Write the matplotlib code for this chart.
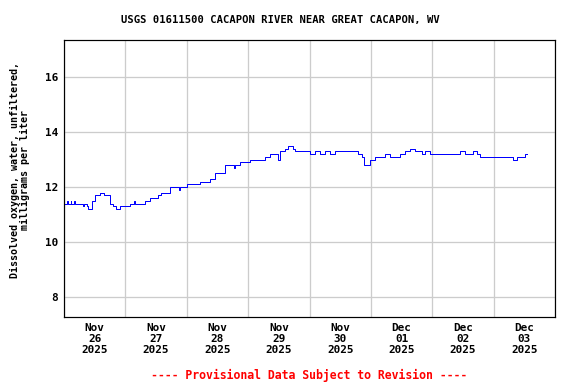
import pandas as pd
import matplotlib
matplotlib.use("Agg")
import matplotlib.pyplot as plt
import matplotlib.dates as mdates

# hours after 2025-11-26 00:00 and dissolved oxygen (mg/L)
hours = [0.4, 1.2, 1.5, 2.6, 2.9, 4.0, 4.3, 6.3, 7.5, 7.8, 9.0, 9.3, 10.9, 12.1,
         14.1, 15.6, 18.0, 19.2, 20.3, 21.9, 23.8,
         25.8, 27.5, 27.8, 29.7, 31.7, 33.6, 36.7, 37.9, 41.4, 43.4, 45.0, 45.3,
         48.1, 51.2, 53.2, 55.1,
         57.1, 59.0, 61.0, 62.9, 65.7, 66.5, 66.8, 68.8, 70.8, 72.7, 76.6, 78.6,
         80.5, 82.5,
         83.7, 84.4, 86.4, 87.6, 89.5, 90.3, 92.3, 96.2, 98.1, 100.1, 102.0,
         104.0, 105.9, 107.9, 109.8, 111.8, 113.8, 114.9, 116.5, 117.3, 118.8,
         119.6, 120.4, 121.6, 123.5, 125.5, 127.4, 130.6, 131.3, 133.3, 135.3,
         137.2, 138.4, 139.9, 141.1, 143.1, 145.0, 147.0, 148.9, 150.1, 152.8,
         154.8, 156.7, 159.9, 161.4, 162.6, 164.2, 165.7, 167.3, 170.4, 172.4,
         174.3, 175.5, 177.1, 179.4, 180.2, 181.0]
oxygen = [11.4, 11.5, 11.4, 11.5, 11.4, 11.5, 11.4, 11.4, 11.3, 11.4, 11.3, 11.2,
          11.5, 11.7,
          11.8, 11.7, 11.4, 11.3, 11.2, 11.3, 11.3,
          11.4, 11.5, 11.4, 11.4, 11.5, 11.6, 11.7, 11.8, 12.0, 12.0, 11.9, 12.0,
          12.1, 12.1, 12.2, 12.2,
          12.3, 12.5, 12.5, 12.8, 12.8, 12.7, 12.8, 12.9, 12.9, 13.0, 13.0, 13.1,
          13.2, 13.2,
          13.0, 13.3, 13.4, 13.5, 13.4, 13.3, 13.3, 13.2, 13.3, 13.2, 13.3,
          13.2, 13.3, 13.3, 13.3, 13.3, 13.3, 13.2, 13.1, 12.8, 12.8,
          13.0, 13.0, 13.1, 13.1, 13.2, 13.1, 13.1, 13.2, 13.3, 13.4,
          13.3, 13.3, 13.2, 13.3, 13.2, 13.2, 13.2, 13.2, 13.2, 13.2,
          13.3, 13.2, 13.3, 13.2, 13.1, 13.1, 13.1, 13.1, 13.1, 13.1,
          13.1, 13.0, 13.1, 13.1, 13.2, 13.2]

start = pd.Timestamp("2025-11-26 00:00")
times = [start + pd.Timedelta(hours=h) for h in hours]

plt.rcParams['font.family'] = 'DejaVu Sans Mono'
plt.rcParams['font.weight'] = 'bold'

fig = plt.figure(figsize=(8, 384 / 72), dpi=72)
ax = fig.add_axes([64 / 576, 67 / 384, 491 / 576, 277 / 384])

ax.plot(times, oxygen, color='#0000ff', lw=1, drawstyle='steps-post')

ax.set_xlim(start, start + pd.Timedelta(days=8))
ax.set_ylim(7.27, 17.35)
ax.set_yticks([8, 10, 12, 14, 16])

ax.xaxis.set_major_locator(mdates.DayLocator())
ax.xaxis.set_major_formatter(plt.NullFormatter())
ax.xaxis.set_minor_locator(mdates.HourLocator(byhour=[12]))
ax.xaxis.set_minor_formatter(mdates.DateFormatter('%b\n%d\n%Y'))
ax.tick_params(axis='x', which='both', length=0, labelsize=11, pad=6)
ax.tick_params(axis='y', length=0, labelsize=11, pad=6)
for lab in ax.get_xticklabels(minor=True):
    lab.set_linespacing(1.15)

ax.grid(True, which='major', color='#cccccc', lw=1.3)
for s in ax.spines.values():
    s.set_linewidth(1.2)

fig.text(280 / 576, 1 - 20 / 384, 'USGS 01611500 CACAPON RIVER NEAR GREAT CACAPON, WV',
         ha='center', va='center', fontsize=10.5)
fig.text(20 / 576, 1 - 170 / 384,
         'Dissolved oxygen, water, unfiltered,\nmilligrams per liter',
         rotation=90, ha='center', va='center', fontsize=10,
         multialignment='center', linespacing=1.1)
fig.text(309 / 576, 1 - 375 / 384, '---- Provisional Data Subject to Revision ----',
         ha='center', va='center', fontsize=11.5, color='#ff0000')

fig.savefig('out.png', dpi=72)
